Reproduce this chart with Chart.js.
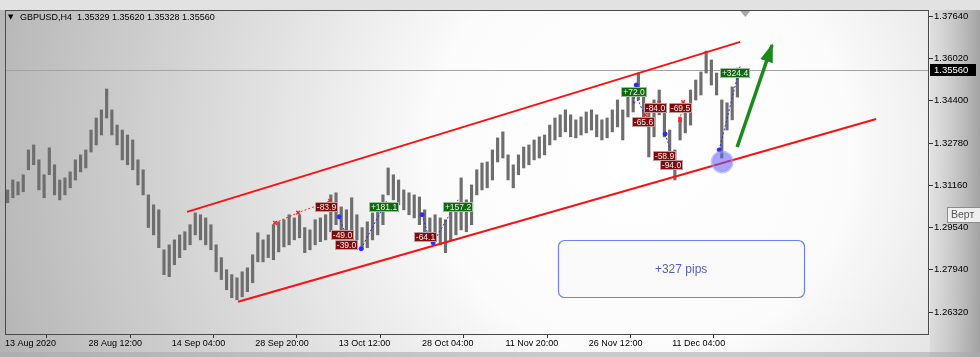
<!DOCTYPE html>
<html><head><meta charset="utf-8">
<script src="https://cdn.jsdelivr.net/npm/chart.js@4.4.1/dist/chart.umd.min.js"></script>
<style>html,body{margin:0;padding:0;overflow:hidden;background:#d0d0d0}canvas{display:block}</style>
</head><body>
<canvas id="c" width="980" height="357"></canvas>
<script>
// ---------------- data ----------------
const symbolTitle = 'GBPUSD,H4  1.35329 1.35620 1.35328 1.35560';
const lastClose = 1.35560;
const barStep = 4; // H4 bars per plotted range
const highs = [
1.3099,1.3137,1.3130,1.3157,1.3252,1.3271,1.3214,1.3157,1.3260,1.3195,
1.3137,1.3145,1.3168,1.3214,1.3233,1.3252,1.3328,1.3374,1.3405,1.3485,
1.3405,1.3347,1.3328,1.3309,1.3290,1.3214,1.3176,1.3080,1.3042,1.3023,
1.2870,1.2889,1.2908,1.2927,1.2939,1.2966,1.3011,1.3004,1.2992,1.2966,
1.2889,1.2840,1.2794,1.2775,1.2763,1.2786,1.2801,1.2851,1.2935,1.2908,
1.2927,1.2966,1.2977,1.2985,1.3004,1.2992,1.3004,1.2955,1.2946,1.2985,
1.2992,1.3004,1.3080,1.3088,1.3034,1.3023,1.3069,1.3004,1.2955,1.2977,
1.3011,1.3042,1.3080,1.3183,1.3157,1.3137,1.3099,1.3088,1.3080,1.3072,
1.3023,1.2992,1.3004,1.2992,1.2985,1.3023,1.3042,1.3145,1.3061,1.3118,
1.3176,1.3202,1.3206,1.3252,1.3298,1.3321,1.3233,1.3195,1.3233,1.3263,
1.3271,1.3290,1.3302,1.3309,1.3347,1.3374,1.3386,1.3405,1.3386,1.3367,
1.3378,1.3397,1.3405,1.3386,1.3367,1.3374,1.3405,1.3443,1.3405,1.3462,
1.3481,1.3546,1.3454,1.3405,1.3443,1.3481,1.3405,1.3328,1.3252,1.3378,
1.3424,1.3481,1.3519,1.3550,1.3630,1.3596,1.3546,1.3443,1.3432,1.3493,
1.3565];
const lows = [
1.3050,1.3069,1.3080,1.3092,1.3176,1.3195,1.3099,1.3069,1.3157,1.3080,
1.3061,1.3080,1.3107,1.3137,1.3168,1.3183,1.3244,1.3271,1.3309,1.3374,
1.3309,1.3271,1.3214,1.3195,1.3176,1.3118,1.3080,1.2955,1.2927,1.2878,
1.2775,1.2767,1.2813,1.2840,1.2870,1.2889,1.2927,1.2908,1.2889,1.2870,
1.2786,1.2756,1.2717,1.2687,1.2679,1.2690,1.2710,1.2744,1.2824,1.2824,
1.2840,1.2832,1.2862,1.2881,1.2889,1.2908,1.2916,1.2859,1.2870,1.2889,
1.2901,1.2908,1.2939,1.2966,1.2920,1.2920,1.2946,1.2908,1.2870,1.2878,
1.2908,1.2927,1.2966,1.3080,1.3061,1.3042,1.3023,1.3004,1.2992,1.2966,
1.2939,1.2908,1.2908,1.2889,1.2859,1.2908,1.2927,1.2946,1.2939,1.2966,
1.3080,1.3099,1.3107,1.3137,1.3206,1.3221,1.3137,1.3107,1.3157,1.3183,
1.3195,1.3214,1.3221,1.3233,1.3271,1.3290,1.3302,1.3321,1.3302,1.3298,
1.3309,1.3317,1.3328,1.3302,1.3290,1.3298,1.3321,1.3340,1.3290,1.3378,
1.3397,1.3443,1.3347,1.3225,1.3302,1.3386,1.3302,1.3214,1.3137,1.3290,
1.3317,1.3347,1.3443,1.3462,1.3546,1.3500,1.3462,1.3221,1.3328,1.3367,
1.3454];
const xTickBars = [0,64,128,192,256,320,384,448,512];
const xTickLabels = ['13 Aug 2020','28 Aug 12:00','14 Sep 04:00','28 Sep 20:00','13 Oct 12:00','28 Oct 04:00','11 Nov 20:00','26 Nov 12:00','11 Dec 04:00'];
const yTicks = [1.26320,1.27940,1.29540,1.31160,1.32780,1.34400,1.36020,1.37640];

// drawn objects, in (bar index, price)
const channelUpper = [[139.7,1.3015],[564.1,1.3665]];
const channelLower = [[178.8,1.2671],[668.5,1.3370]];
const redTrails = [
  [[207.2,1.2973],[224.9,1.3012],[249.4,1.3057]],
  [[491.2,1.3386],[501.9,1.3432]],
  [[518.0,1.3367],[520.3,1.3435]]
];
const blueTrails = [
  [[256.3,1.2996],[262.5,1.2916]],
  [[273.2,1.2874],[293.2,1.3061]],
  [[320.0,1.3004],[323.9,1.2939]],
  [[328.5,1.2897],[347.7,1.3061]],
  [[484.3,1.3500],[482.0,1.3428],[485.8,1.3443],[489.6,1.3397]],
  [[506.5,1.3313],[508.8,1.3279],[510.4,1.3252]],
  [[548.0,1.3252],[564.1,1.3573]]
];
const tradeLabels = ['-83.9','-49.0','-39.0','+181.1','-64.1','+157.2','+72.0','-84.0','-65.6','-69.5','-58.9','-94.0','+324.4'];
const tradeLabelBars = [246.4,258.6,261.7,290.9,322.3,347.7,482.7,498.8,489.6,518.0,505.8,511.1,560.2];
const tradeLabelPrices = [1.3034,1.2927,1.2889,1.3034,1.2920,1.3034,1.3474,1.3412,1.3359,1.3412,1.3229,1.3195,1.3546];
const arrowLine = [[561.8,1.3263],[588.6,1.3653]];
const touchPoint = [[550.3,1.3206]];
const pipsText = '+327 pips';
const pipsBoxBars = [424.4,613.2];
const pipsBoxPrices = [1.2908,1.2690];
const shiftMarkBar = 568;

// ---------------- chart ----------------
const toXY = arr => arr.map(p => ({x:p[0], y:p[1]}));
const candles = highs.map((h,k) => ({x: k*barStep + 2, y: [lows[k], h]}));

const datasets = [
  {type:'bar', data:candles, backgroundColor:'#6e6e6e', borderWidth:0, barThickness:2.5, grouped:false, order:20},
  {type:'line', data:toXY(channelUpper), borderColor:'#ff1010', borderWidth:2, pointRadius:0, order:10},
  {type:'line', data:toXY(channelLower), borderColor:'#ff1010', borderWidth:2, pointRadius:0, order:10},
];
redTrails.forEach(t => datasets.push({type:'line', data:toXY(t), borderColor:'#ff2020', borderWidth:1, borderDash:[2,2],
  pointRadius:2.5, pointStyle:'crossRot', pointBorderColor:'#ff2020', pointBorderWidth:1.5, order:6}));
blueTrails.forEach(t => datasets.push({type:'line', data:toXY(t), borderColor:'#2a2aff', borderWidth:1, borderDash:[2,2],
  pointRadius:[2,0,0,0].slice(0,t.length), pointBackgroundColor:'#2a2aff', pointBorderColor:'#2a2aff', order:6}));
datasets.push({type:'line', data:toXY(touchPoint), showLine:false, pointRadius:10, pointHoverRadius:10,
  backgroundColor:'rgba(95,95,245,0.55)', borderColor:'rgba(150,150,255,0.55)', pointBorderWidth:3, order:3});
datasets.push({type:'line', data:toXY(arrowLine), borderColor:'#1b8a1b', borderWidth:3.5, pointRadius:0, order:2});

const fontMain = '"Liberation Sans", Arial, sans-serif';

const decor = {
  id:'decor',
  beforeDraw(chart){
    const {ctx, width, height, chartArea:a} = chart;
    ctx.save();
    ctx.fillStyle = '#d4d4d4'; ctx.fillRect(0,0,width,height);
    const g = ctx.createRadialGradient(640,150,0,640,150,700);
    g.addColorStop(0,'#ffffff'); g.addColorStop(0.3,'#fbfbfb'); g.addColorStop(1,'#b0b0b0');
    ctx.fillStyle = g; ctx.fillRect(0,0,width,height);
    const g2 = ctx.createLinearGradient(a.right,0,width,0);
    g2.addColorStop(0,'rgba(190,190,190,0.25)'); g2.addColorStop(1,'rgba(140,140,140,0.75)');
    ctx.fillStyle = g2; ctx.fillRect(a.right+1,0,width-a.right,height);
    ctx.fillStyle = '#e2e2e2'; ctx.fillRect(0,0,width,a.top);
    ctx.fillStyle = 'rgba(170,170,170,0.6)'; ctx.fillRect(0,height-5,width,5);
    ctx.restore();
  },
  beforeDatasetsDraw(chart){
    const {ctx, chartArea:a, scales:{y}} = chart;
    const py = Math.round(y.getPixelForValue(lastClose)) + 0.5;
    ctx.save(); ctx.strokeStyle = '#a4a4a4'; ctx.lineWidth = 1;
    ctx.beginPath(); ctx.moveTo(a.left,py); ctx.lineTo(a.right,py); ctx.stroke(); ctx.restore();
  },
  afterDatasetsDraw(chart){
    const {ctx, chartArea:a, scales:{x,y}} = chart;
    ctx.save();
    // arrow head
    const p0 = {x:x.getPixelForValue(arrowLine[0][0]), y:y.getPixelForValue(arrowLine[0][1])};
    const p1 = {x:x.getPixelForValue(arrowLine[1][0]), y:y.getPixelForValue(arrowLine[1][1])};
    const ang = Math.atan2(p1.y-p0.y, p1.x-p0.x);
    const L = 17, W = 6.5;
    ctx.fillStyle = '#1b8a1b';
    ctx.beginPath();
    ctx.moveTo(p1.x + Math.cos(ang)*2, p1.y + Math.sin(ang)*2);
    ctx.lineTo(p1.x - Math.cos(ang)*L - Math.sin(ang)*W, p1.y - Math.sin(ang)*L + Math.cos(ang)*W);
    ctx.lineTo(p1.x - Math.cos(ang)*L + Math.sin(ang)*W, p1.y - Math.sin(ang)*L - Math.cos(ang)*W);
    ctx.closePath(); ctx.fill();
    // trade labels
    ctx.font = '8.5px ' + fontMain;
    ctx.textAlign = 'center'; ctx.textBaseline = 'middle';
    tradeLabels.forEach((t,i) => {
      const cx = x.getPixelForValue(tradeLabelBars[i]);
      const cy = y.getPixelForValue(tradeLabelPrices[i]);
      const w = Math.round(ctx.measureText(t).width + 4), h = 10;
      const l = Math.round(cx - w/2), tp = Math.round(cy - h/2);
      ctx.fillStyle = t[0] === '+' ? '#0e6a0e' : '#7e0c0c';
      ctx.fillRect(l, tp, w, h);
      ctx.strokeStyle = 'rgba(235,235,235,0.8)'; ctx.lineWidth = 0.8;
      ctx.strokeRect(l+0.5, tp+0.5, w-1, h-1);
      ctx.fillStyle = '#f6eeee';
      ctx.fillText(t, l + w/2, tp + h/2 + 0.5);
    });
    // pips box
    const bx0 = x.getPixelForValue(pipsBoxBars[0]), bx1 = x.getPixelForValue(pipsBoxBars[1]);
    const by0 = y.getPixelForValue(pipsBoxPrices[0]), by1 = y.getPixelForValue(pipsBoxPrices[1]);
    ctx.beginPath();
    ctx.roundRect(Math.round(bx0)+0.5, Math.round(by0)+0.5, Math.round(bx1-bx0), Math.round(by1-by0), 6);
    ctx.fillStyle = 'rgba(250,250,251,0.97)'; ctx.fill();
    ctx.strokeStyle = '#6f80f0'; ctx.lineWidth = 1.2; ctx.stroke();
    ctx.font = '12px ' + fontMain; ctx.fillStyle = '#5a5ac8';
    ctx.fillText(pipsText, (bx0+bx1)/2, (by0+by1)/2 + 1);
    ctx.restore();
  },
  afterDraw(chart){
    const {ctx, width, height, chartArea:a, scales:{x,y}} = chart;
    ctx.save();
    // frame
    ctx.strokeStyle = '#4a4a4a'; ctx.lineWidth = 1;
    ctx.strokeRect(a.left+0.5, a.top+0.5, a.right-a.left-1, a.bottom-a.top);
    // header
    ctx.fillStyle = '#000'; ctx.textBaseline = 'middle'; ctx.textAlign = 'left';
    ctx.font = '7px "DejaVu Sans", sans-serif';
    ctx.fillText('▼', a.left + 3, a.top + 7);
    ctx.font = '9px ' + fontMain;
    ctx.fillText(symbolTitle, a.left + 15, a.top + 7.5);
    // shift marker
    const sx = x.getPixelForValue(shiftMarkBar);
    ctx.fillStyle = '#a8a8a8';
    ctx.beginPath(); ctx.moveTo(sx-5, a.top+1); ctx.lineTo(sx+5, a.top+1); ctx.lineTo(sx, a.top+7); ctx.closePath(); ctx.fill();
    // current price label
    const py = y.getPixelForValue(lastClose);
    ctx.fillStyle = '#000'; ctx.fillRect(a.right+1, Math.round(py)-6, 46, 12);
    ctx.fillStyle = '#fff'; ctx.font = '9.5px ' + fontMain;
    ctx.fillText(lastClose.toFixed(5), a.right + 5, Math.round(py) + 0.5);
    // tooltip stub
    ctx.fillStyle = '#efefef'; ctx.fillRect(947.5, 207.5, 40, 15);
    ctx.strokeStyle = '#8c8c8c'; ctx.strokeRect(947.5, 207.5, 40, 15);
    ctx.fillStyle = '#555'; ctx.font = '10.5px ' + fontMain;
    ctx.fillText('Верт', 951, 215.5);
    ctx.restore();
  }
};

new Chart(document.getElementById('c'), {
  type:'bar',
  data:{datasets},
  options:{
    responsive:false, animation:false, devicePixelRatio:1,
    layout:{autoPadding:false, padding:{left:5, top:10, right:0, bottom:0}},
    plugins:{legend:{display:false}, tooltip:{enabled:false}},
    events:[],
    scales:{
      x:{type:'linear', min:0, max:709, offset:false,
        afterBuildTicks:s => { s.ticks = xTickBars.map(v => ({value:v})); },
        afterFit:s => { s.height = 23; s.paddingLeft = 0; s.paddingRight = 0; },
        grid:{drawOnChartArea:false, drawTicks:true, tickLength:4, color:'#333'},
        border:{display:false},
        ticks:{autoSkip:false, maxRotation:0, minRotation:0, align:'start', padding:0, color:'#000',
          font:{family:fontMain, size:9}, callback:v => xTickLabels[xTickBars.indexOf(v)]}
      },
      y:{type:'linear', position:'right', min:1.2548, max:1.3787,
        afterBuildTicks:s => { s.ticks = yTicks.map(v => ({value:v})); },
        afterFit:s => { s.width = 51; s.paddingTop = 0; s.paddingBottom = 0; },
        grid:{drawOnChartArea:false, drawTicks:true, tickLength:4, color:'#333'},
        border:{display:false},
        ticks:{padding:1, color:'#000', font:{family:fontMain, size:9.5}, callback:v => v.toFixed(5)}
      }
    }
  },
  plugins:[decor]
});
</script>
</body></html>
